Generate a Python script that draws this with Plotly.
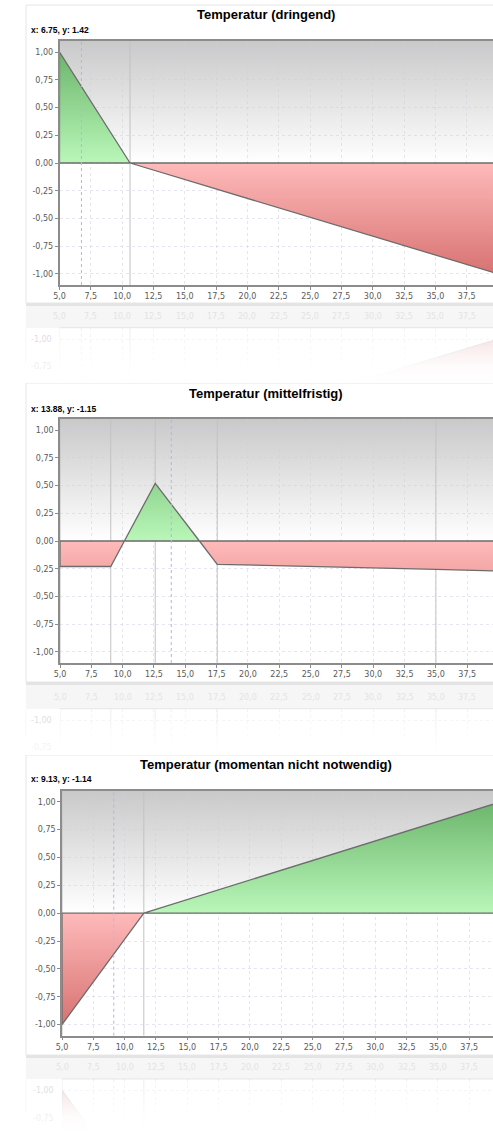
import numpy as np
import plotly.graph_objects as go

W, H = 493, 1132

# ---------------- data ----------------
titles = ["Temperatur (dringend)", "Temperatur (mittelfristig)", "Temperatur (momentan nicht notwendig)"]
cursor_texts = ["x: 6.75, y: 1.42", "x: 13.88, y: -1.15", "x: 9.13, y: -1.14"]
cursor_x = [6.75, 13.88, 9.13]

p1_x = [5.0, 10.63, 40.0]
p1_y = [1.0, 0.0, -1.0]
p2_x = [5.0, 9.05, 12.6, 17.55, 35.0, 40.0]
p2_y = [-0.23, -0.23, 0.52, -0.21, -0.255, -0.27]
p3_x = [5.0, 11.53, 40.0]
p3_y = [-1.0, 0.0, 1.0]

x_tick_vals = [5.0, 7.5, 10.0, 12.5, 15.0, 17.5, 20.0, 22.5, 25.0, 27.5, 30.0, 32.5, 35.0, 37.5, 40.0]
x_tick_text = ["5,0", "7,5", "10,0", "12,5", "15,0", "17,5", "20,0", "22,5", "25,0", "27,5",
               "30,0", "32,5", "35,0", "37,5", "40,0"]
y_tick_vals = [-1.0, -0.75, -0.5, -0.25, 0.0, 0.25, 0.5, 0.75, 1.0]
y_tick_text = ["-1,00", "-0,75", "-0,50", "-0,25", "0,00", "0,25", "0,50", "0,75", "1,00"]

series_x = [p1_x, p2_x, p3_x]
series_y = [p1_y, p2_y, p3_y]

# ---------------- style / geometry (px) ----------------
Y_RANGE = [-1.1, 1.1]
PX_PER_X = 12.53
panels = [
    dict(card_top=5, card_bottom=303, title_y=15, label_y=30, left=59.5, top=41, bottom=285, mirror=306.5, refl_end=383),
    dict(card_top=383, card_bottom=682, title_y=393, label_y=409, left=60, top=419, bottom=663, mirror=686, refl_end=755),
    dict(card_top=755, card_bottom=1055, title_y=764, label_y=779, left=62, top=790.7, bottom=1035.7, mirror=1057.5, refl_end=1132),
]
CARD_LEFT = 26
TITLE_CX = 266

GREEN_LO, GREEN_HI = "#b9f7b9", "#6cb56c"
RED_LO, RED_HI = "#ffbaba", "#d87272"
BG_TOP = "#c9c9c9"
OUTLINE = "#6c6c6c"
AXIS_COL = "#8c8c8c"
GRID_COL = "rgba(205,205,228,0.5)"
TICK_FONT = dict(family="DejaVu Sans", size=8, color="#5a5a5a")


def fx(px):
    return px / W


def fy(py):
    return 1 - py / H


def regions(xs, ys):
    px, py = [xs[0]], [ys[0]]
    for i in range(len(xs) - 1):
        x0, y0, x1, y1 = xs[i], ys[i], xs[i + 1], ys[i + 1]
        if y0 * y1 < 0:
            px.append(x0 + (x1 - x0) * (-y0) / (y1 - y0))
            py.append(0.0)
        px.append(x1)
        py.append(y1)
    out, cur = [], None
    for i in range(len(px) - 1):
        s = 1 if (py[i] + py[i + 1]) > 0 else -1
        if cur is None or cur[0] != s:
            if cur:
                out.append(cur)
            cur = [s, [px[i]], [py[i]]]
        cur[1].append(px[i + 1])
        cur[2].append(py[i + 1])
    out.append(cur)
    return [(s, [rx[0]] + rx + [rx[-1], rx[0]], [0.0] + ry + [0.0, 0.0]) for s, rx, ry in out]


def fill_trace(s, xs, ys, xa, ya):
    if s > 0:
        fg = dict(type="vertical", start=0.0, stop=1.0, colorscale=[[0, GREEN_LO], [1, GREEN_HI]])
    else:
        fg = dict(type="vertical", start=-1.0, stop=0.0, colorscale=[[0, RED_HI], [1, RED_LO]])
    return go.Scatter(x=xs, y=ys, xaxis=xa, yaxis=ya, mode="lines", fill="toself", fillgradient=fg,
                      line=dict(color=OUTLINE, width=1.3), hoverinfo="skip", showlegend=False)


def vlines(xvals, yr, xa, ya, color, width, dash=None):
    xs, ys = [], []
    for v in xvals:
        xs += [v, v, None]
        ys += [yr[0], yr[1], None]
    return go.Scatter(x=xs, y=ys, xaxis=xa, yaxis=ya, mode="lines",
                      line=dict(color=color, width=width, dash=dash), hoverinfo="skip", showlegend=False)


fig = go.Figure()
layout = dict(width=W, height=H, margin=dict(l=0, r=0, t=0, b=0, autoexpand=False), paper_bgcolor="white",
              plot_bgcolor="rgba(0,0,0,0)", showlegend=False, hovermode=False)
shapes, annotations = [], []

hidden = dict(visible=False, showgrid=False, zeroline=False)
# canvas (background) subplot
layout["xaxis"] = dict(domain=[0, 1], range=[0, W], anchor="y", **hidden)
layout["yaxis"] = dict(domain=[0, 1], range=[H, 0], anchor="x", **hidden)
# overlay subplot (fading of reflections)
layout["xaxis8"] = dict(domain=[0, 1], range=[0, W], anchor="y8", **hidden)
layout["yaxis8"] = dict(domain=[0, 1], range=[H, 0], anchor="x8", **hidden)

# background gradients on canvas
for p in panels:
    zpx = p["top"] + (Y_RANGE[1] - 0) / (Y_RANGE[1] - Y_RANGE[0]) * (p["bottom"] - p["top"])
    fig.add_trace(go.Scatter(
        x=[p["left"], W, W, p["left"], p["left"]], y=[p["top"], p["top"], zpx, zpx, p["top"]],
        xaxis="x", yaxis="y", mode="lines", line=dict(width=0), fill="toself",
        fillgradient=dict(type="vertical", start=p["top"], stop=zpx, colorscale=[[0, BG_TOP], [1, "#ffffff"]]),
        hoverinfo="skip", showlegend=False))

for i, p in enumerate(panels):
    k = 2 + i
    xa, ya = f"x{k}", f"y{k}"
    xr = [5.0, 5.0 + (W - p["left"]) / PX_PER_X]
    layout[f"xaxis{k}"] = dict(domain=[fx(p["left"]), 1], range=xr, anchor=ya,
                               tickvals=x_tick_vals, ticktext=x_tick_text, tickfont=TICK_FONT,
                               ticks="outside", ticklen=3, tickcolor=AXIS_COL, tickwidth=1,
                               showline=True, linecolor=AXIS_COL, linewidth=1.5, mirror=True,
                               showgrid=True, gridcolor=GRID_COL, griddash="dot", gridwidth=1,
                               zeroline=False, automargin=False)
    layout[f"yaxis{k}"] = dict(domain=[fy(p["bottom"]), fy(p["top"])], range=Y_RANGE, anchor=xa,
                               tickvals=y_tick_vals, ticktext=y_tick_text, tickfont=TICK_FONT,
                               ticks="outside", ticklen=3, tickcolor=AXIS_COL, tickwidth=1,
                               showline=True, linecolor=AXIS_COL, linewidth=1.5,
                               showgrid=True, gridcolor=GRID_COL, griddash="dot", gridwidth=1,
                               zeroline=False, automargin=False)
    xs, ys = series_x[i], series_y[i]
    fig.add_trace(vlines(xs, Y_RANGE, xa, ya, "#c2c2c2", 1))
    for s, px_, py_ in regions(xs, ys):
        fig.add_trace(fill_trace(s, px_, py_, xa, ya))
    fig.add_trace(vlines([cursor_x[i]], Y_RANGE, xa, ya, "#b4b4e6", 1, "dot"))

    # reflection subplot
    kr = 5 + i
    xar, yar = f"x{kr}", f"y{kr}"
    refl_top = 2 * p["mirror"] - p["bottom"]
    orig_px = 2 * p["mirror"] - p["refl_end"]
    v_end = Y_RANGE[1] - (orig_px - p["top"]) / (p["bottom"] - p["top"]) * (Y_RANGE[1] - Y_RANGE[0])
    yr_refl = [v_end, Y_RANGE[0]]
    layout[f"xaxis{kr}"] = dict(domain=[fx(p["left"]), 1], range=xr, anchor=yar, side="top",
                                tickvals=x_tick_vals, showticklabels=False, ticks="", showline=False,
                                showgrid=True, gridcolor="rgba(160,160,200,0.6)", griddash="dot",
                                zeroline=False)
    layout[f"yaxis{kr}"] = dict(domain=[fy(p["refl_end"]), fy(refl_top)], range=yr_refl, anchor=xar,
                                tickvals=y_tick_vals, showticklabels=False, ticks="", showline=False,
                                showgrid=True, gridcolor="rgba(160,160,200,0.6)", griddash="dot",
                                zeroline=False)
    fig.add_trace(vlines(xs, [min(yr_refl), max(yr_refl)], xar, yar, "#bdbdbd", 1.2))
    for s, px_, py_ in regions(xs, ys):
        fig.add_trace(fill_trace(s, px_, py_, xar, yar))
    fig.add_trace(vlines([cursor_x[i]], [min(yr_refl), max(yr_refl)], xar, yar, "#b4b4e6", 1, "dot"))

    # card (right side runs to the page edge)
    shapes.append(dict(type="rect", xref="paper", yref="paper", x0=fx(CARD_LEFT), x1=1.0,
                       y0=fy(p["card_bottom"] + 3), y1=fy(p["card_bottom"]), fillcolor="#e4e4e4",
                       line=dict(width=0), layer="below"))
    shapes.append(dict(type="path", xref="paper", yref="paper",
                       path=(f"M {fx(W + 5)},{fy(p['card_bottom'])} L {fx(CARD_LEFT)},{fy(p['card_bottom'])} "
                             f"L {fx(CARD_LEFT)},{fy(p['card_top'])} L {fx(W + 5)},{fy(p['card_top'])}"),
                       fillcolor="white", line=dict(color="#e6e6e6", width=1), layer="below"))
    # reflection band and reflected outline pieces
    shapes.append(dict(type="rect", xref="paper", yref="paper", x0=fx(CARD_LEFT), x1=1.0,
                       y0=fy(refl_top), y1=fy(p["card_bottom"] + 3), fillcolor="#f6f6f6",
                       line=dict(width=0), layer="below"))
    shapes.append(dict(type="line", xref="paper", yref="paper", x0=fx(p["left"]), x1=1.0,
                       y0=fy(refl_top), y1=fy(refl_top), line=dict(color="#e4e4e4", width=1.5),
                       layer="below"))
    shapes.append(dict(type="line", xref="paper", yref="paper", x0=fx(CARD_LEFT), x1=fx(CARD_LEFT),
                       y0=fy(p["refl_end"] - 20), y1=fy(refl_top), line=dict(color="#f2f2f2", width=1),
                       layer="below"))

    # fading overlay for the reflection
    fig.add_trace(go.Scatter(
        x=[CARD_LEFT, W, W, CARD_LEFT, CARD_LEFT],
        y=[refl_top, refl_top, p["refl_end"], p["refl_end"], refl_top],
        xaxis="x8", yaxis="y8", mode="lines", line=dict(width=0), fill="toself",
        fillgradient=dict(type="vertical", start=refl_top, stop=p["refl_end"],
                          colorscale=[[0, "rgba(255,255,255,0.76)"], [0.7, "rgba(255,255,255,0.97)"],
                                      [1, "rgba(255,255,255,1)"]]),
        hoverinfo="skip", showlegend=False))

    # texts
    annotations.append(dict(text="<b>" + titles[i] + "</b>", xref="paper", yref="paper",
                            x=fx(TITLE_CX), y=fy(p["title_y"]), xanchor="center", yanchor="middle",
                            showarrow=False, font=dict(family="Liberation Sans", size=13, color="black")))
    annotations.append(dict(text="<b>" + cursor_texts[i] + "</b>", xref="paper", yref="paper",
                            x=fx(CARD_LEFT + 3), y=fy(p["label_y"]), xanchor="left", yanchor="middle",
                            showarrow=False, font=dict(family="Liberation Sans", size=8.5, color="black")))
    # reflected tick labels (faint)
    label_y = p["bottom"] + 12
    rl_y = 2 * p["mirror"] - label_y
    for v, t in zip(x_tick_vals[:-1], x_tick_text[:-1]):
        annotations.append(dict(text=t, xref="paper", yref="paper",
                                x=fx(p["left"] + (v - 5.0) * PX_PER_X), y=fy(rl_y),
                                xanchor="center", yanchor="middle", showarrow=False,
                                font=dict(family="DejaVu Sans", size=8, color="#e4e4e4")))
    for v, t in zip(y_tick_vals, y_tick_text):
        opx = p["top"] + (Y_RANGE[1] - v) / (Y_RANGE[1] - Y_RANGE[0]) * (p["bottom"] - p["top"])
        rpx = 2 * p["mirror"] - opx
        if refl_top < rpx < p["refl_end"] - 4:
            frac = (rpx - refl_top) / (p["refl_end"] - refl_top)
            g = int(216 + (250 - 216) * frac)
            annotations.append(dict(text=t, xref="paper", yref="paper", x=fx(p["left"] - 6), y=fy(rpx),
                                    xanchor="right", yanchor="middle", showarrow=False,
                                    font=dict(family="DejaVu Sans", size=8, color=f"rgb({g},{g},{g})")))

layout["shapes"] = shapes
layout["annotations"] = annotations
fig.update_layout(**layout)
fig.write_html(
    "out.html",
    config={"displayModeBar": False, "responsive": False},
    post_script=("document.body.style.margin='0';"
                 "document.body.style.overflow='hidden';"
                 "document.documentElement.style.overflow='hidden';"
                 "Plotly.relayout('{plot_id}', {width: %d, height: %d});" % (W, H)),
)
